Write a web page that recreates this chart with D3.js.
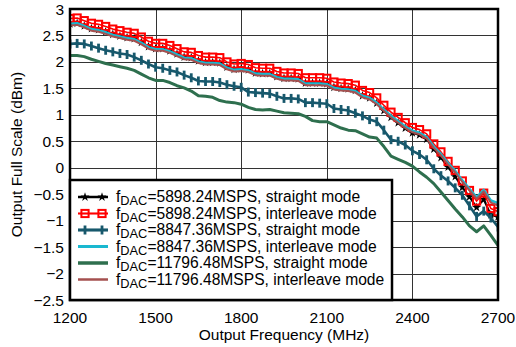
<!DOCTYPE html>
<html><head><meta charset="utf-8">
<script src="https://cdn.jsdelivr.net/npm/d3@7"></script>
<style>body{margin:0;background:#fff}svg{display:block}text{font-family:"Liberation Sans",Arial,Helvetica,sans-serif}</style>
</head><body><svg id="c" width="516" height="347"></svg>
<script>
const freqStart = 1200, freqStep = 25;
const xTicks = [1200,1500,1800,2100,2400,2700];
const yTicks = [-2.5,-2,-1.5,-1,-0.5,0,0.5,1,1.5,2,2.5,3];
const seriesNames = [
  "5898.24MSPS, straight mode",
  "5898.24MSPS, interleave mode",
  "8847.36MSPS, straight mode",
  "8847.36MSPS, interleave mode",
  "11796.48MSPS, straight mode",
  "11796.48MSPS, interleave mode"
];
const s5898straight = [2.72,2.73,2.68,2.63,2.61,2.57,2.52,2.49,2.46,2.44,2.37,2.29,2.25,2.25,2.21,2.15,2.09,2.08,2.02,1.99,1.99,1.98,1.90,1.86,1.87,1.85,1.79,1.78,1.78,1.72,1.69,1.69,1.68,1.60,1.60,1.60,1.59,1.52,1.50,1.49,1.46,1.36,1.32,1.22,1.08,0.95,0.85,0.75,0.66,0.62,0.54,0.35,0.19,0.01,-0.17,-0.37,-0.55,-0.75,-0.60,-0.89,-0.93];
const s5898inter = [2.82,2.83,2.78,2.73,2.71,2.67,2.62,2.59,2.56,2.54,2.47,2.39,2.35,2.35,2.31,2.25,2.19,2.18,2.12,2.09,2.09,2.08,2.00,1.96,1.97,1.95,1.89,1.88,1.88,1.82,1.79,1.79,1.78,1.70,1.70,1.70,1.69,1.62,1.60,1.59,1.56,1.46,1.42,1.32,1.18,1.05,0.95,0.85,0.76,0.72,0.64,0.45,0.30,0.12,-0.05,-0.25,-0.43,-0.63,-0.48,-0.77,-0.83];
const s8847straight = [2.34,2.35,2.34,2.30,2.26,2.22,2.19,2.16,2.14,2.09,2.03,1.96,1.90,1.88,1.84,1.81,1.75,1.70,1.64,1.63,1.63,1.61,1.57,1.54,1.52,1.43,1.42,1.41,1.40,1.35,1.31,1.31,1.30,1.23,1.23,1.22,1.21,1.12,1.10,1.08,1.03,0.98,0.91,0.87,0.71,0.53,0.50,0.43,0.32,0.25,0.15,-0.02,-0.15,-0.25,-0.38,-0.52,-0.72,-0.92,-0.82,-0.95,-1.12];
const s8847inter = [2.72,2.73,2.68,2.62,2.60,2.56,2.51,2.48,2.45,2.43,2.36,2.28,2.24,2.24,2.20,2.14,2.08,2.07,2.01,1.98,1.98,1.97,1.89,1.85,1.86,1.84,1.78,1.77,1.77,1.71,1.68,1.68,1.67,1.59,1.59,1.59,1.58,1.51,1.49,1.48,1.45,1.36,1.32,1.23,1.10,0.98,0.88,0.78,0.70,0.66,0.58,0.40,0.26,0.09,-0.06,-0.24,-0.40,-0.56,-0.42,-0.62,-0.67];
const s11796straight = [2.12,2.12,2.10,2.05,2.01,1.97,1.94,1.91,1.88,1.84,1.77,1.70,1.65,1.65,1.61,1.55,1.51,1.45,1.36,1.35,1.33,1.27,1.24,1.23,1.20,1.14,1.10,1.09,1.10,1.07,1.04,1.03,1.02,0.97,0.89,0.87,0.87,0.81,0.75,0.71,0.70,0.64,0.58,0.56,0.40,0.22,0.16,0.10,0.03,-0.08,-0.18,-0.30,-0.46,-0.62,-0.78,-0.93,-1.10,-1.21,-1.10,-1.28,-1.47];
const s11796inter = [2.69,2.70,2.65,2.59,2.57,2.53,2.48,2.45,2.42,2.40,2.33,2.25,2.21,2.21,2.17,2.11,2.05,2.04,1.98,1.95,1.95,1.94,1.86,1.82,1.83,1.81,1.75,1.74,1.74,1.68,1.65,1.65,1.64,1.56,1.56,1.56,1.55,1.48,1.46,1.45,1.42,1.33,1.29,1.20,1.07,0.95,0.85,0.75,0.67,0.63,0.55,0.37,0.23,0.06,-0.09,-0.27,-0.43,-0.59,-0.45,-0.66,-0.71];

const seriesValues = [s5898straight,s5898inter,s8847straight,s8847inter,s11796straight,s11796inter];
const styles = [
  {color:"#000000", width:2, marker:"dot"},
  {color:"#ff0000", width:1.6, marker:"square"},
  {color:"#17586c", width:2.6, marker:"plus"},
  {color:"#1ab8d0", width:2.5, marker:null},
  {color:"#2e6f4e", width:3, marker:null},
  {color:"#a5504f", width:2, marker:null}
];

const L=70,R=498,T=9,B=300;
const x = d3.scaleLinear().domain([1200,2700]).range([L,R]);
const y = d3.scaleLinear().domain([-2.5,3]).range([B,T]);
const svg = d3.select("#c");

svg.append("g").selectAll("line").data(yTicks.slice(1,-1)).join("line")
  .attr("x1",L).attr("x2",R).attr("y1",d=>Math.round(y(d))+0.5).attr("y2",d=>Math.round(y(d))+0.5)
  .attr("stroke","#333").attr("stroke-width",1);
svg.append("g").selectAll("line").data(xTicks.slice(1,-1)).join("line")
  .attr("y1",T).attr("y2",B).attr("x1",d=>Math.round(x(d))+0.5).attr("x2",d=>Math.round(x(d))+0.5)
  .attr("stroke","#333").attr("stroke-width",1);

svg.append("clipPath").attr("id","clip").append("rect").attr("x",L).attr("y",T).attr("width",R-L).attr("height",B-T);
const plot = svg.append("g").attr("clip-path","url(#clip)");

function drawMarker(g, type, color, cx, cy){
  if(type==="dot"){
    g.append("path").attr("d",d3.symbol(d3.symbolStar,26)()).attr("transform",`translate(${cx},${cy})`).attr("fill",color);
  } else if(type==="square"){
    g.append("rect").attr("x",cx-3.6).attr("y",cy-3.6).attr("width",7.2).attr("height",7.2).attr("fill","none").attr("stroke",color).attr("stroke-width",2);
  } else if(type==="plus"){
    g.append("line").attr("x1",cx).attr("x2",cx).attr("y1",cy-4.5).attr("y2",cy+4.5).attr("stroke",color).attr("stroke-width",2.8);
  }
}

const line = d3.line().x((d,i)=>x(freqStart+i*freqStep)).y(d=>y(d));
seriesValues.forEach((vals,k)=>{
  const st = styles[k];
  const g = plot.append("g");
  g.append("path").datum(vals).attr("d",line).attr("fill","none").attr("stroke",st.color).attr("stroke-width",st.width).attr("stroke-linejoin","round");
  if(st.marker){ vals.forEach((v,i)=>drawMarker(g, st.marker, st.color, x(freqStart+i*freqStep), y(v))); }
});

svg.append("rect").attr("x",L).attr("y",T).attr("width",R-L).attr("height",B-T).attr("fill","none").attr("stroke","#000").attr("stroke-width",2.5);

const lg = svg.append("g");
lg.append("rect").attr("x",L).attr("y",180).attr("width",392-L).attr("height",B-180).attr("fill","#fff").attr("stroke","#000").attr("stroke-width",2.5);
seriesNames.forEach((n,k)=>{
  const st = styles[k];
  const cy = 197 + k*16.5;
  lg.append("line").attr("x1",78).attr("x2",108).attr("y1",cy).attr("y2",cy).attr("stroke",st.color).attr("stroke-width",st.width+0.5);
  if(st.marker){ drawMarker(lg, st.marker, st.color, 85, cy); drawMarker(lg, st.marker, st.color, 102, cy); }
  const t = lg.append("text").attr("x",116).attr("y",cy+5).attr("font-size",15.6).attr("fill","#000");
  t.append("tspan").text("f");
  t.append("tspan").attr("font-size",12.8).attr("dy",3).text("DAC");
  t.append("tspan").attr("dy",-3).text("="+n);
});

svg.append("g").selectAll("text").data(yTicks).join("text")
  .attr("x",64).attr("y",d=>y(d)).attr("dy","0.36em").attr("text-anchor","end").attr("font-size",15.5).text(d=>d3.format("")(d));
svg.append("g").selectAll("text").data(xTicks).join("text")
  .attr("x",d=>x(d)).attr("y",323).attr("text-anchor","middle").attr("font-size",15.5).text(d=>d);

svg.append("text").attr("x",284).attr("y",340).attr("text-anchor","middle").attr("font-size",15.5).text("Output Frequency (MHz)");
svg.append("text").attr("transform",`translate(22,${(T+B)/2}) rotate(-90)`).attr("text-anchor","middle").attr("font-size",15.5).text("Output Full Scale (dBm)");
</script></body></html>
